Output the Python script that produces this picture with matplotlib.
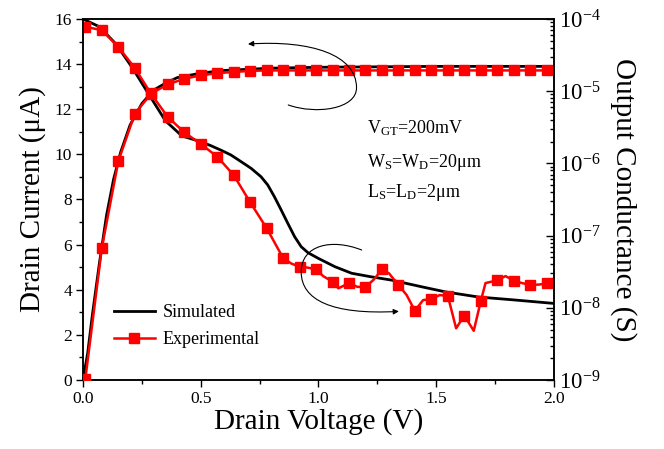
import matplotlib
matplotlib.use("Agg")
import matplotlib.pyplot as plt
from matplotlib.path import Path
from matplotlib.patches import FancyArrowPatch
from matplotlib.ticker import MultipleLocator, LogLocator, NullFormatter

plt.rcParams['font.family'] = ['Liberation Serif', 'DejaVu Serif']
plt.rcParams['mathtext.fontset'] = 'custom'
plt.rcParams['mathtext.rm'] = 'Liberation Serif'
plt.rcParams['mathtext.it'] = 'Liberation Serif:italic'
plt.rcParams['mathtext.default'] = 'regular'

# measured points (every marker), drain voltage in V
v_meas = [0.01 + 0.07 * i for i in range(29)]

# experimental drain current, uA
id_exp = [0.05, 5.85, 9.7, 11.8, 12.7, 13.1, 13.35, 13.5, 13.6, 13.65,
          13.7, 13.72, 13.72, 13.72, 13.72, 13.72, 13.72, 13.72, 13.72, 13.72,
          13.72, 13.72, 13.72, 13.72, 13.72, 13.72, 13.72, 13.72, 13.72]

# experimental output conductance at the markers, S
g_exp = [7.8e-5, 7.0e-5, 4.1e-5, 2.1e-5, 9.1e-6, 4.4e-6, 2.7e-6, 1.86e-6,
         1.24e-6, 6.9e-7, 2.9e-7, 1.27e-7, 4.9e-8, 3.7e-8, 3.4e-8, 2.3e-8,
         2.2e-8, 1.95e-8, 3.4e-8, 2.07e-8, 9.1e-9, 1.32e-8, 1.46e-8, 7.8e-9,
         1.24e-8, 2.4e-8, 2.37e-8, 2.07e-8, 2.2e-8]

# conductance readings between markers in the noisy region
v_exp_extra = [0.885, 0.955, 1.02, 1.085, 1.165, 1.235, 1.30, 1.375, 1.445,
               1.515, 1.585, 1.66, 1.71, 1.795, 1.865, 1.94, 2.0]
g_exp_extra = [4.1e-8, 3.6e-8, 2.75e-8, 1.86e-8, 1.95e-8, 2.45e-8, 3.0e-8,
               1.5e-8, 1.28e-8, 1.5e-8, 5.2e-9, 4.8e-9, 2.2e-8, 2.75e-8,
               2.2e-8, 2.1e-8, 2.55e-8]

# simulated drain current
v_sim_id = [0.0, 0.02, 0.04, 0.07, 0.1, 0.13, 0.16, 0.2, 0.25, 0.3, 0.35,
            0.4, 0.5, 0.6, 0.8, 1.0, 1.5, 2.0]
id_sim = [0.0, 1.2, 2.9, 5.2, 7.3, 8.9, 10.1, 11.3, 12.25, 12.85, 13.15,
          13.4, 13.6, 13.72, 13.82, 13.86, 13.9, 13.9]

# simulated output conductance
v_sim_g = [0.0, 0.07, 0.14, 0.21, 0.28, 0.35, 0.42, 0.50, 0.543, 0.585,
           0.628, 0.671, 0.714, 0.756, 0.785, 0.813, 0.842, 0.870, 0.899,
           0.927, 0.956, 0.999, 1.070, 1.141, 1.22, 1.31, 1.44, 1.54, 1.68,
           1.825, 2.0]
g_sim = [1.0e-4, 7.8e-5, 4.5e-5, 2.1e-5, 9.0e-6, 3.9e-6, 2.4e-6, 2.0e-6,
         1.76e-6, 1.53e-6, 1.31e-6, 1.06e-6, 8.55e-7, 6.55e-7, 5.02e-7,
         3.46e-7, 2.26e-7, 1.48e-7, 9.66e-8, 7.01e-8, 5.79e-8, 4.85e-8,
         3.71e-8, 3.01e-8, 2.7e-8, 2.42e-8, 1.95e-8, 1.66e-8, 1.41e-8,
         1.29e-8, 1.15e-8]

g_ticks = [1e-9, 1e-8, 1e-7, 1e-6, 1e-5, 1e-4]

# merge marker points and extra readings into one sorted conductance trace
g_line = sorted(list(zip(v_meas, g_exp)) + list(zip(v_exp_extra, g_exp_extra)))
v_line = [p[0] for p in g_line]
g_line = [p[1] for p in g_line]

RED = '#ff0000'

fig = plt.figure(figsize=(6.64, 4.49), dpi=100)
ax = fig.add_axes([0.125, 0.1537, 0.709, 0.804])
ax2 = ax.twinx()

# drain current (left axis)
ax.plot(v_sim_id, id_sim, color='black', lw=2.0, label='Simulated', zorder=3)
ax.plot(v_meas, id_exp, color=RED, lw=1.8, marker='s', ms=7.5,
        label='Experimental', zorder=4)

# output conductance (right axis)
ax2.plot(v_sim_g, g_sim, color='black', lw=2.0, zorder=3)
ax2.plot(v_line, g_line, color=RED, lw=1.8, zorder=4)
ax2.plot(v_meas, g_exp, color=RED, lw=0, marker='s', ms=7.5, zorder=5)

ax.set_xlim(0, 2.0)
ax.set_ylim(0, 16)
ax2.set_yscale('log')
ax2.set_ylim(1e-9, 1e-4)

ax.xaxis.set_major_locator(MultipleLocator(0.5))
ax.xaxis.set_minor_locator(MultipleLocator(0.25))
ax.yaxis.set_major_locator(MultipleLocator(2))
ax.yaxis.set_minor_locator(MultipleLocator(1))
ax.tick_params(axis='both', which='major', direction='out', length=5,
               width=1.0, labelsize=12.5, pad=3)
ax.tick_params(axis='both', which='minor', direction='out', length=3,
               width=1.0)

# top ticks point into the frame, drawn from the twin's shared x axis
ax2.tick_params(axis='x', which='both', bottom=False, labelbottom=False,
                top=True, labeltop=False, direction='in', length=4,
                width=1.0)
ax2.set_yticks(g_ticks)
ax2.yaxis.set_minor_locator(LogLocator(base=10, subs=range(2, 10), numticks=20))
ax2.yaxis.set_minor_formatter(NullFormatter())
ax2.tick_params(axis='y', which='major', direction='in', length=6,
                width=1.0, labelsize=16.5, pad=4)
ax2.tick_params(axis='y', which='minor', direction='in', length=3, width=1.0)

for a in (ax, ax2):
    for s in a.spines.values():
        s.set_linewidth(1.1)

ax.set_xlabel('Drain Voltage (V)', fontsize=21, labelpad=1)
ax.set_ylabel('Drain Current (\u03bcA)', fontsize=21, labelpad=6)
ax2.set_ylabel('Output Conductance (S)', fontsize=21, rotation=270,
               labelpad=26)

# device parameters
ax.text(1.205, 10.95, r'V$_{\rm GT}$=200mV', fontsize=13)
ax.text(1.205, 9.45, 'W$_{\\rm S}$=W$_{\\rm D}$=20\u03bcm', fontsize=13)
ax.text(1.205, 8.13, 'L$_{\\rm S}$=L$_{\\rm D}$=2\u03bcm', fontsize=13)

# curved arrows pointing each curve to its axis
codes = [Path.MOVETO, Path.CURVE4, Path.CURVE4, Path.CURVE4,
         Path.CURVE4, Path.CURVE4, Path.CURVE4]
arc_top = [(0.872, 12.19), (0.991, 11.75), (1.162, 12.01), (1.162, 12.95),
           (1.162, 14.41), (0.970, 15.07), (0.701, 14.89)]
arc_low = [(1.184, 5.76), (1.056, 6.29), (0.927, 5.98), (0.927, 4.79),
           (0.927, 3.55), (1.056, 2.88), (1.342, 3.04)]
for verts in (arc_top, arc_low):
    arrow = FancyArrowPatch(path=Path(verts, codes), arrowstyle='-|>',
                            mutation_scale=8, lw=0.8, color='black',
                            zorder=6)
    ax.add_patch(arrow)

ax.legend(loc='lower left', bbox_to_anchor=(0.038, 0.054), frameon=False,
          fontsize=13, handlelength=2.3, handletextpad=0.4,
          labelspacing=0.55, borderpad=0.2)

ax.set_zorder(ax2.get_zorder() + 1)
ax.patch.set_visible(False)

fig.savefig('out.png', dpi=100)
